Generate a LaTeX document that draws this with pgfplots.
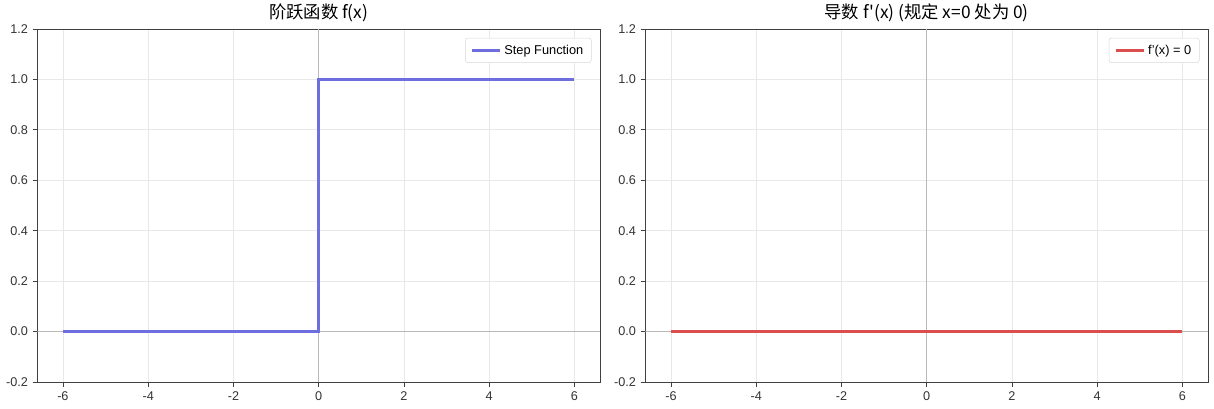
\documentclass[border=0pt]{standalone}
\usepackage{fontspec}
\setmainfont{Liberation Sans}
\newfontfamily\cjk{Noto Sans CJK SC}
\usepackage{pgfplots}
\pgfplotsset{compat=1.18}

\definecolor{stepblue}{RGB}{110,110,222}
\definecolor{dred}{RGB}{218,78,78}
\definecolor{gridc}{RGB}{232,232,232}
\definecolor{zeroc}{RGB}{185,185,185}

\pgfplotsset{panel/.style={
    scale only axis,
    width=422pt, height=264.75pt,
    xmin=-6.6, xmax=6.6, ymin=-0.2, ymax=1.2,
    xtick={-6,-4,-2,0,2,4,6},
    ytick={-0.2,0,0.2,0.4,0.6,0.8,1.0,1.2},
    tick pos=left, tick align=outside,
    major tick length=3.5pt,
    tick style={black!75, line width=0.6pt},
    grid=major, grid style={gridc, line width=0.6pt},
    axis line style={black!75, line width=0.7pt},
    ticklabel style={font=\fontsize{9.5}{11}\selectfont, text=black!80},
    /pgf/number format/assume math mode=true,
    yticklabel style={/pgf/number format/.cd, fixed, fixed zerofill, precision=1},
    title style={font=\cjk\fontsize{13}{15}\selectfont, yshift=-4pt},
    legend style={at={(0.985,0.975)}, anchor=north east, draw=black!15,
        rounded corners=2pt, font=\fontsize{9.6}{11}\selectfont,
        inner xsep=4pt, inner ysep=3pt},
    legend image code/.code={\draw[#1] (0cm,0cm) -- (0.75cm,0cm);},
    legend cell align=left,
}}

\begin{document}
\begin{tikzpicture}
\useasboundingbox (0,0) rectangle (910.5pt,306pt);

\begin{axis}[panel, at={(28pt,19.5pt)}, anchor=south west, title={阶跃函数 f(x)}]
    \addplot[zeroc, line width=0.75pt, forget plot] coordinates {(-6.6,0) (6.6,0)};
    \addplot[zeroc, line width=0.75pt, forget plot] coordinates {(0,-0.2) (0,1.2)};
    \addplot[stepblue, line width=1.9pt] coordinates {(-6,0) (0,0) (0,1) (6,1)};
    \legend{Step Function}
\end{axis}

\begin{axis}[panel, at={(484pt,19.5pt)}, anchor=south west, title={导数 f'(x) (规定 x=0 处为 0)}]
    \addplot[zeroc, line width=0.75pt, forget plot] coordinates {(-6.6,0) (6.6,0)};
    \addplot[zeroc, line width=0.75pt, forget plot] coordinates {(0,-0.2) (0,1.2)};
    \addplot[dred, line width=1.9pt] coordinates {(-6,0) (6,0)};
    \legend{f'(x) = 0}
\end{axis}
\end{tikzpicture}
\end{document}
